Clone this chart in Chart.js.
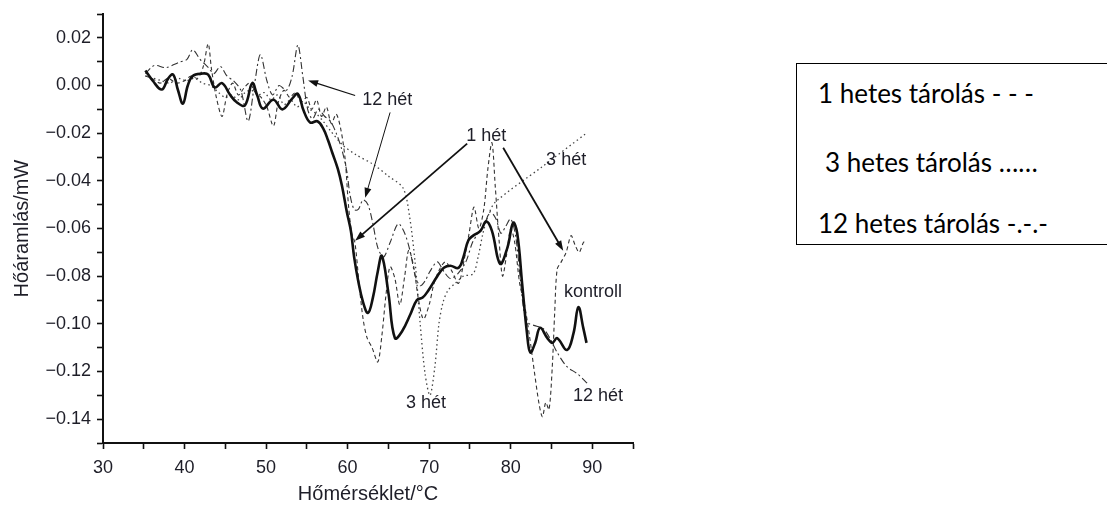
<!DOCTYPE html>
<html lang="hu">
<head>
<meta charset="utf-8">
<title>DSC görbék</title>
<script src="https://cdn.jsdelivr.net/npm/chart.js@4.4.1/dist/chart.umd.min.js"></script>
<style>
    html, body { margin: 0; padding: 0; background: #fff; }
    #page { width: 1107px; height: 506px; position: relative; overflow: hidden; }
    #chart-wrap { position: absolute; left: 0; top: 0; width: 660px; height: 506px; }
    #legend-box { position: absolute; left: 796px; top: 63px; width: 360px; height: 182px; border: 1.5px solid #000; box-sizing: border-box; }
    .legend-line { position: absolute; font-family: Lato, "Open Sans", sans-serif; font-size: 26px; line-height: 26px; color: #000; white-space: nowrap; }
</style>
</head>
<body>
<div id="page">
<div id="chart-wrap"><canvas id="dsc-chart" width="660" height="506"></canvas></div>
<div id="legend-box"></div>
<div class="legend-line" style="left:818px; top:80px;">1 hetes tárolás - - -</div>
<div class="legend-line" style="left:825px; top:149px;">3 hetes tárolás ……</div>
<div class="legend-line" style="left:818px; top:210px;">12 hetes tárolás -.-.-</div>
</div>
<script>
// Tengelyek (ticks)
const xTicks = [30, 35, 40, 45, 50, 55, 60, 65, 70, 75, 80, 85, 90, 95];
const xLabels = [30, 40, 50, 60, 70, 80, 90];
const yTicks = [-0.15, -0.14, -0.13, -0.12, -0.11, -0.10, -0.09, -0.08, -0.07, -0.06, -0.05, -0.04, -0.03, -0.02, -0.01, 0, 0.01, 0.02, 0.03];
const yLabels = [-0.14, -0.12, -0.10, -0.08, -0.06, -0.04, -0.02, 0, 0.02];

// kontroll (solid)
const kontrollT = [35.2, 36.1, 37.2, 38.0, 38.6, 39.2, 39.8, 40.4, 41.0, 42.1, 42.9, 43.7, 44.6, 45.6, 46.4, 47.4, 48.3, 48.9, 49.6, 50.9,
    52.0, 53.2, 53.9, 54.6, 55.4, 56.3, 57.0, 57.6, 58.1, 58.8, 59.3, 59.9, 60.4, 60.8, 61.3, 61.9, 62.5, 63.1, 63.7, 64.2,
    65.0, 65.8, 66.7, 67.7, 68.5, 69.2, 69.9, 71.0, 71.8, 72.6, 73.6, 74.2, 74.8, 75.4, 76.3, 77.0, 77.7, 78.7, 79.6, 80.3,
    80.8, 81.4, 82.0, 82.4, 83.0, 83.6, 84.5, 85.1, 85.7, 86.9, 87.7, 88.3, 88.9, 89.3];
const kontrollQ = [0.0063, 0.002, -0.0017, 0.003, 0.0046, -0.002, -0.0076, 0.000, 0.004, 0.005, 0.0046, -0.0008, 0.001, -0.004, -0.007, -0.0084, 0.001, -0.004, -0.0097, -0.006,
    -0.010, -0.0055, -0.0035, -0.0105, -0.0155, -0.015, -0.018, -0.023, -0.028, -0.035, -0.042, -0.053, -0.061, -0.072, -0.082, -0.091, -0.0954, -0.089, -0.078, -0.0715,
    -0.087, -0.106, -0.103, -0.096, -0.090, -0.089, -0.086, -0.080, -0.0765, -0.0756, -0.0765, -0.072, -0.065, -0.063, -0.061, -0.057, -0.061, -0.0748, -0.068, -0.0576,
    -0.062, -0.083, -0.104, -0.112, -0.108, -0.1017, -0.106, -0.108, -0.106, -0.111, -0.104, -0.093, -0.1017, -0.108];

// 1 hét (dashed)
const het1T = [35.2, 36.0, 37.0, 38.0, 39.0, 40.0, 40.8, 41.6, 42.3, 42.9, 43.3, 43.9, 44.6, 45.2, 45.9, 46.6, 47.3, 48.0, 48.7, 49.4,
    50.1, 50.9, 51.5, 52.2, 52.9, 53.6, 54.3, 55.0, 55.6, 56.2, 56.8, 57.4, 58.0, 58.6, 59.2, 59.7, 60.1, 60.5, 60.9, 61.4,
    61.9, 62.4, 63.0, 63.7, 64.2, 64.7, 65.2, 65.8, 66.4, 67.0, 67.5, 68.1, 68.7, 69.3, 70.0, 70.6, 71.3, 72.0, 72.8, 73.6,
    74.3, 74.9, 75.5, 76.1, 76.7, 77.2, 77.7, 78.1, 78.6, 79.0, 79.5, 80.0, 80.5, 81.1, 81.7, 82.3, 82.9, 83.5, 83.9, 84.3,
    84.7, 85.1, 85.4, 85.7, 86.2, 86.8, 87.4, 87.9, 88.4, 88.9, 89.2];
const het1Q = [0.004, 0.003, 0.001, 0.003, 0.001, 0.002, 0.004, 0.003, 0.008, 0.0175, 0.007, -0.005, -0.013, -0.004, 0.001, -0.004, -0.001, 0.001, -0.003, -0.005,
    -0.009, -0.017, -0.007, -0.002, -0.005, -0.003, -0.007, -0.005, -0.010, -0.006, -0.013, -0.009, -0.016, -0.012, -0.019, -0.031, -0.050, -0.062, -0.066, -0.083,
    -0.098, -0.106, -0.110, -0.116, -0.105, -0.088, -0.076, -0.081, -0.092, -0.080, -0.069, -0.076, -0.090, -0.098, -0.092, -0.083, -0.077, -0.074, -0.078, -0.083,
    -0.073, -0.062, -0.051, -0.060, -0.052, -0.035, -0.024, -0.042, -0.066, -0.080, -0.071, -0.060, -0.066, -0.083, -0.092, -0.105, -0.120, -0.134, -0.139, -0.133,
    -0.136, -0.118, -0.095, -0.077, -0.074, -0.070, -0.063, -0.067, -0.070, -0.066, -0.065];

// 3 hét (dotted)
const het3T = [35.2, 36.2, 37.2, 38.2, 39.2, 40.2, 41.2, 42.2, 43.2, 44.2, 45.0, 45.8, 46.6, 47.4, 48.2, 49.0, 49.8, 50.6, 51.4, 52.2,
    53.0, 53.8, 54.6, 55.4, 56.2, 57.0, 57.9, 59.4, 61.0, 63.1, 65.0, 66.8, 67.6, 68.3, 68.9, 69.5, 70.1, 70.7, 71.2, 71.7,
    72.3, 73.2, 74.2, 75.4, 76.0, 76.6, 77.2, 78.1, 83.7, 89.3];
const het3Q = [0.004, 0.003, 0.002, 0.001, 0.003, 0.002, 0.003, 0.001, 0.000, -0.003, -0.005, -0.004, -0.006, -0.003, -0.002, -0.004, -0.003, -0.006, -0.004, -0.008,
    -0.006, -0.009, -0.007, -0.010, -0.012, -0.015, -0.019, -0.025, -0.029, -0.033, -0.038, -0.043, -0.055, -0.075, -0.100, -0.121, -0.130, -0.118, -0.100, -0.091,
    -0.086, -0.083, -0.080, -0.079, -0.072, -0.062, -0.055, -0.049, -0.0345, -0.020];

// 12 hét (dash-dot)
const het12T = [35.2, 36.3, 37.7, 39.3, 40.3, 41.0, 41.9, 42.9, 43.6, 44.4, 45.2, 46.0, 46.9, 47.8, 48.6, 49.3, 50.1, 50.8, 51.6, 52.5,
    53.2, 53.9, 54.5, 55.1, 55.7, 56.4, 57.2, 57.9, 58.6, 59.3, 59.9, 60.3, 60.8, 61.3, 61.9, 62.5, 63.1, 63.7, 64.4, 65.2,
    66.2, 67.0, 67.7, 68.3, 68.9, 69.5, 70.1, 71.0, 71.8, 72.6, 73.5, 74.5, 75.3, 76.0, 76.8, 77.5, 78.2, 78.8, 79.4, 80.0,
    80.6, 81.2, 81.6, 82.1, 83.2, 84.0, 84.8, 85.7, 86.9, 88.2, 89.4];
const het12Q = [0.005, 0.0084, 0.0075, 0.0097, 0.011, 0.015, 0.011, 0.0076, 0.005, 0.008, 0.004, 0.002, -0.002, -0.015, 0.001, 0.013, 0.002, -0.004, 0.000, -0.002,
    0.004, 0.017, 0.004, -0.010, -0.014, -0.010, -0.013, -0.015, -0.020, -0.027, -0.036, -0.046, -0.052, -0.052, -0.048, -0.050, -0.058, -0.068, -0.072, -0.066,
    -0.058, -0.062, -0.070, -0.080, -0.084, -0.082, -0.078, -0.074, -0.078, -0.081, -0.079, -0.074, -0.066, -0.062, -0.058, -0.053, -0.056, -0.062, -0.059, -0.056,
    -0.063, -0.082, -0.094, -0.0995, -0.101, -0.102, -0.106, -0.112, -0.118, -0.121, -0.125];

// Feliratok és nyilak (adat-egységekben)
const labelTexts = ['12 hét', '1 hét', '3 hét', 'kontroll', '3 hét', '12 hét'];
const labelT = [64.85, 77.0, 86.8, 90.1, 69.6, 90.7];
const labelQ = [-0.0063, -0.021, -0.0311, -0.0866, -0.1332, -0.1303];
const arrowFromT = [60.92, 65.21, 74.66, 79.08];
const arrowFromQ = [-0.0042, -0.0113, -0.0244, -0.0261];
const arrowToT = [55.15, 62.15, 60.92, 86.44];
const arrowToQ = [0.0021, -0.0471, -0.0651, -0.0693];
const arrowWidths = [1.2, 1, 1.8, 1.8];

const textColor = '#1e1e28';
const axisColor = '#111';

function toPoints(ts, qs) {
    return ts.map((t, i) => ({ x: t, y: qs[i] }));
}

function sameValue(a, b) {
    return Math.abs(a - b) < 1e-9;
}

// Nyíl rajzolása
function drawArrow(ctx, x1, y1, x2, y2, width) {
    const angle = Math.atan2(y2 - y1, x2 - x1);
    const head = 10;
    ctx.strokeStyle = axisColor;
    ctx.fillStyle = axisColor;
    ctx.lineWidth = width;
    ctx.setLineDash([]);
    ctx.beginPath();
    ctx.moveTo(x1, y1);
    ctx.lineTo(x2 - Math.cos(angle) * head * 0.8, y2 - Math.sin(angle) * head * 0.8);
    ctx.stroke();
    ctx.beginPath();
    ctx.moveTo(x2, y2);
    ctx.lineTo(x2 - head * Math.cos(angle) + 3.5 * Math.sin(angle), y2 - head * Math.sin(angle) - 3.5 * Math.cos(angle));
    ctx.lineTo(x2 - head * Math.cos(angle) - 3.5 * Math.sin(angle), y2 - head * Math.sin(angle) + 3.5 * Math.cos(angle));
    ctx.closePath();
    ctx.fill();
}

const annotationPlugin = {
    id: 'dscAnnotations',
    afterDatasetsDraw(chart) {
        const { ctx, scales: { x, y } } = chart;
        ctx.save();
        arrowFromT.forEach((t, i) => {
            drawArrow(ctx,
                x.getPixelForValue(t), y.getPixelForValue(arrowFromQ[i]),
                x.getPixelForValue(arrowToT[i]), y.getPixelForValue(arrowToQ[i]),
                arrowWidths[i]);
        });
        ctx.font = '18px "Liberation Sans"';
        ctx.fillStyle = textColor;
        ctx.textAlign = 'center';
        ctx.textBaseline = 'middle';
        labelTexts.forEach((txt, i) => {
            ctx.fillText(txt, x.getPixelForValue(labelT[i]), y.getPixelForValue(labelQ[i]));
        });
        ctx.restore();
    }
};

const tickFont = { family: 'Liberation Sans', size: 18 };
const titleFont = { family: 'Liberation Sans', size: 20 };

const ctx = document.getElementById('dsc-chart').getContext('2d');

const dscChart = new Chart(ctx, {
    type: 'line',
    data: {
        datasets: [
            { label: 'kontroll', data: toPoints(kontrollT, kontrollQ), borderColor: '#111', borderWidth: 2.6, tension: 0.4 },
            { label: '1 hét', data: toPoints(het1T, het1Q), borderColor: '#333', borderWidth: 1.1, borderDash: [4, 3], tension: 0.3 },
            { label: '3 hét', data: toPoints(het3T, het3Q), borderColor: '#444', borderWidth: 1.3, borderDash: [1.5, 3], tension: 0.3 },
            { label: '12 hét', data: toPoints(het12T, het12Q), borderColor: '#333', borderWidth: 1.1, borderDash: [7, 3, 2, 3], tension: 0.3 }
        ]
    },
    options: {
        responsive: false,
        animation: false,
        devicePixelRatio: 1,
        layout: { padding: { top: 14, right: 27, bottom: 0, left: 0 } },
        elements: { point: { radius: 0 } },
        plugins: {
            legend: { display: false },
            tooltip: { enabled: false }
        },
        scales: {
            x: {
                type: 'linear',
                min: 30,
                max: 95,
                afterBuildTicks: scale => { scale.ticks = xTicks.map(v => ({ value: v })); },
                afterFit: scale => {
                    scale.height = 63;
                    scale.paddingLeft = 0;
                    scale.paddingRight = 0;
                },
                ticks: {
                    font: tickFont,
                    color: textColor,
                    padding: 8,
                    maxRotation: 0,
                    autoSkip: false,
                    callback: value => xLabels.some(l => sameValue(l, value)) ? String(value) : ''
                },
                grid: { drawOnChartArea: false, drawTicks: true, tickLength: 6, tickWidth: 1.6, tickColor: axisColor },
                border: { display: true, color: axisColor, width: 2 },
                title: { display: true, text: 'Hőmérséklet/°C', font: titleFont, color: textColor, padding: { top: 0, bottom: 0 } }
            },
            y: {
                type: 'linear',
                min: -0.15,
                max: 0.03,
                afterBuildTicks: scale => { scale.ticks = yTicks.map(v => ({ value: v })); },
                afterFit: scale => {
                    scale.width = 103;
                    scale.paddingTop = 0;
                    scale.paddingBottom = 0;
                },
                ticks: {
                    font: tickFont,
                    color: textColor,
                    padding: 6,
                    autoSkip: false,
                    callback: value => {
                        if (!yLabels.some(l => sameValue(l, value))) return '';
                        if (sameValue(value, 0)) return '0.00';
                        return (value < 0 ? '\u2212' : '') + Math.abs(value).toFixed(2);
                    }
                },
                grid: { drawOnChartArea: false, drawTicks: true, tickLength: 6, tickWidth: 1.6, tickColor: axisColor },
                border: { display: true, color: axisColor, width: 2 },
                title: { display: true, text: 'Hőáramlás/mW', font: titleFont, color: textColor, padding: { top: 10, bottom: 0 } }
            }
        }
    },
    plugins: [annotationPlugin]
});
</script>
</body>
</html>
